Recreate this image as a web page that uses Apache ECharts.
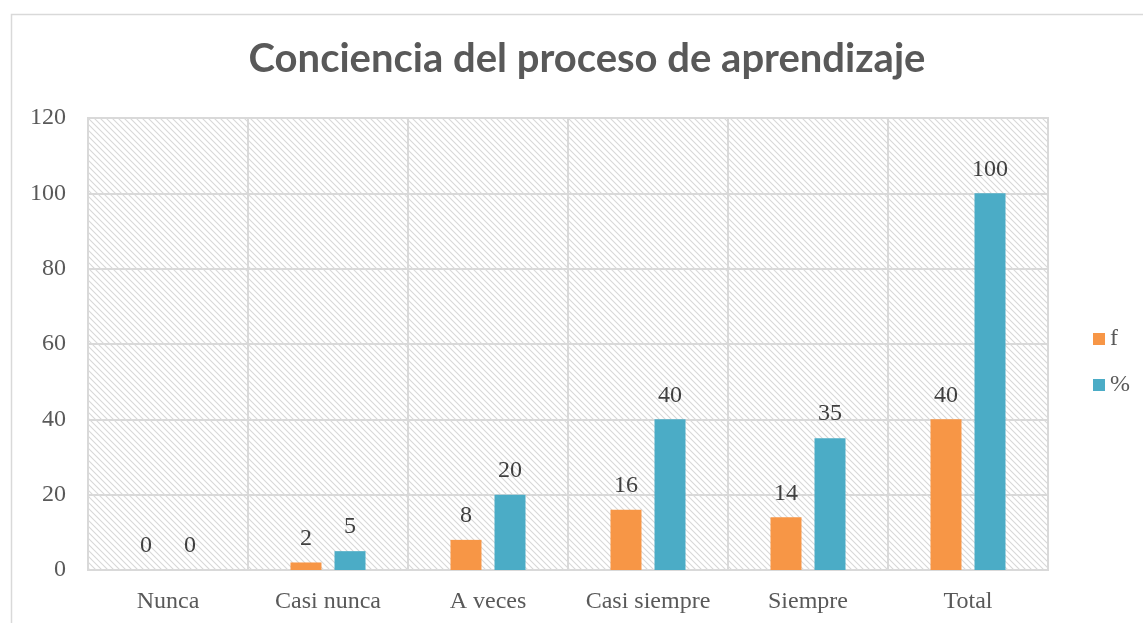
<!DOCTYPE html>
<html><head><meta charset="utf-8">
<script src="https://cdn.jsdelivr.net/npm/echarts@6/dist/echarts.min.js"></script>
<style>html,body{margin:0;padding:0;background:#fff}#c{width:1143px;height:623px}</style>
</head><body><div id="c"></div>
<script>
const categories = ['Nunca','Casi nunca','A veces','Casi siempre','Siempre','Total'];
const fValues = [0,2,8,16,14,40];
const pctValues = [0,5,20,40,35,100];
const seriesNames = ['f','%'];

function hatch(){
  const c = document.createElement('canvas');
  c.width = 6; c.height = 6;
  const g = c.getContext('2d');
  g.fillStyle = '#fff'; g.fillRect(0,0,6,6);
  g.strokeStyle = '#d8d8d8'; g.lineWidth = 1.1;
  g.beginPath();
  g.moveTo(-1,-1); g.lineTo(7,7);
  g.moveTo(-1,5); g.lineTo(1,7);
  g.moveTo(5,-1); g.lineTo(7,1);
  g.stroke();
  return c;
}

const SERIF = 'Liberation Serif';
const chart = echarts.init(document.getElementById('c'), null, {renderer:'canvas'});
const labelStyle = {show:true, position:'top', distance:12, fontFamily:SERIF, fontSize:24, color:'#404040'};
chart.setOption({
  animation:false,
  backgroundColor:'#fff',
  graphic:[{type:'rect', left:9, top:12, shape:{width:1200, height:700}, style:{fill:'none', stroke:'#d9d9d9', lineWidth:1.5}, z:-10}],
  title:{text:'Conciencia del proceso de aprendizaje', left:582, top:34, textAlign:'center',
    textStyle:{fontFamily:'Lato', fontWeight:'bold', fontSize:40, color:'#595959'}},
  legend:{orient:'vertical', left:1088, top:322, itemWidth:12, itemHeight:12, itemGap:22,
    icon:'rect', textStyle:{fontFamily:SERIF, fontSize:24, color:'#595959'}, data:seriesNames},
  grid:{left:88, right:95, top:118, bottom:53, show:true, backgroundColor:{image:hatch(), repeat:'repeat'}, borderColor:'#d9d9d9', borderWidth:2},
  xAxis:{type:'category', data:categories,
    axisLine:{lineStyle:{color:'#d9d9d9', width:2}}, axisTick:{show:false},
    splitLine:{show:true, interval:0, lineStyle:{color:'#d9d9d9', width:2}},
    axisLabel:{interval:0, hideOverlap:false, fontFamily:SERIF, fontSize:24, color:'#595959', margin:20}},
  yAxis:{type:'value', min:0, max:120, interval:20,
    axisLine:{show:false}, axisTick:{show:false},
    splitLine:{lineStyle:{color:'#d9d9d9', width:2}},
    axisLabel:{fontFamily:SERIF, fontSize:24, color:'#595959', margin:22}},
  series:[
    {name:seriesNames[0], type:'bar', data:fValues, barWidth:31, barGap:'42%', itemStyle:{color:'#f79646'}, label:labelStyle},
    {name:seriesNames[1], type:'bar', data:pctValues, barWidth:31, itemStyle:{color:'#4bacc6'}, label:labelStyle}
  ]
});
</script></body></html>
